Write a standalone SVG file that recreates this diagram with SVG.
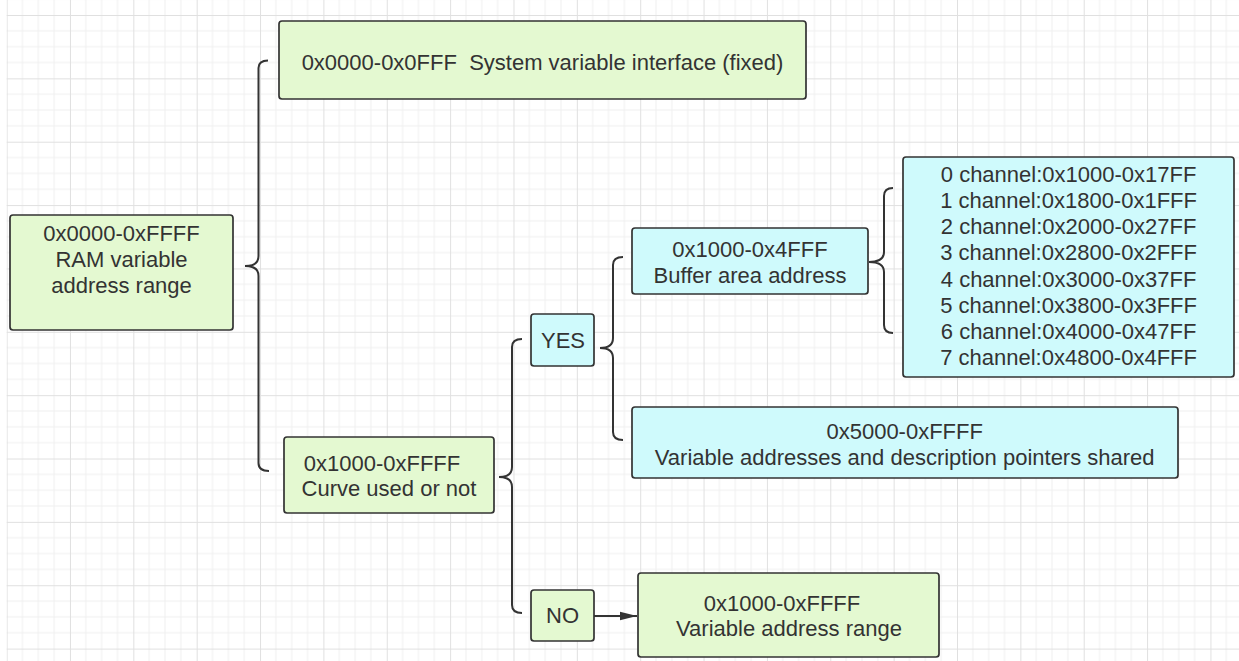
<svg xmlns="http://www.w3.org/2000/svg" width="1239" height="661" viewBox="0 0 1239 661">
<style>
.box{stroke:#333;stroke-width:1.7;}
.g{fill:#e4f9d1;}
.c{fill:#cffafc;}
.t{font-family:"Liberation Sans","Noto Sans",sans-serif;font-size:22px;fill:#333;text-anchor:middle;white-space:pre;}
.br{fill:none;stroke:#333;stroke-width:2;}
</style>
<defs>
<pattern id="grid" patternUnits="userSpaceOnUse" x="6.6" y="15" width="63.36" height="63.36">
<path d="M15.84 0V63.36M31.68 0V63.36M47.52 0V63.36M0 15.84H63.36M0 31.68H63.36M0 47.52H63.36" stroke="#efefef" stroke-width="1" fill="none"/>
<path d="M0.5 0V63.36M0 0.5H63.36" stroke="#e0e0e0" stroke-width="1" fill="none"/>
</pattern>
<marker id="arr" markerWidth="18" markerHeight="10" refX="17" refY="5" orient="auto" markerUnits="userSpaceOnUse">
<path d="M0 0.8L17 5L0 9.2Z" fill="#333"/>
</marker>
</defs>
<rect x="0" y="0" width="1239" height="661" fill="#fff"/>
<rect x="6.6" y="0" width="1233" height="661" fill="url(#grid)"/>
<g id="connectors">
<path class="br" d="M268 60.5Q258.5 60.5 258.5 68V256Q258.5 266 245 266Q258.5 266 258.5 276V463Q258.5 471 269 471"/>
<path class="br" d="M522 339Q512 339 512 347V467Q512 477 499 477Q512 477 512 487V605Q512 613 522 613"/>
<path class="br" d="M623 257Q613 257 613 265V338Q613 348 600 348Q613 348 613 358V432Q613 440 623 440"/>
<path class="br" d="M893 188Q884 188 884 196V252Q884 262 869 262Q884 262 884 272V325Q884 333 893 333"/>
<line x1="594" y1="616" x2="637" y2="616" stroke="#333" stroke-width="2" marker-end="url(#arr)"/>
</g>
<g id="root">
<rect class="box g" x="10" y="215" width="223" height="115" rx="3"/>
<text class="t" x="121.5" y="241">0x0000-0xFFFF</text>
<text class="t" x="121.5" y="267">RAM variable</text>
<text class="t" x="121.5" y="293">address range</text>
</g>
<g id="system">
<rect class="box g" x="279" y="21" width="527" height="78" rx="3"/>
<text class="t" x="542.5" y="70">0x0000-0x0FFF  System variable interface (fixed)</text>
</g>
<g id="curve">
<rect class="box g" x="284" y="437" width="210" height="76" rx="3"/>
<text class="t" x="382" y="471">0x1000-0xFFFF</text>
<text class="t" x="389" y="496">Curve used or not</text>
</g>
<g id="yes">
<rect class="box c" x="531" y="314" width="63" height="52" rx="3"/>
<text class="t" x="563" y="348">YES</text>
</g>
<g id="no">
<rect class="box g" x="531" y="590" width="63" height="51" rx="3"/>
<text class="t" x="562.5" y="623">NO</text>
</g>
<g id="buffer">
<rect class="box c" x="632" y="228" width="236" height="66" rx="3"/>
<text class="t" x="750" y="257">0x1000-0x4FFF</text>
<text class="t" x="750" y="283">Buffer area address</text>
</g>
<g id="channels">
<rect class="box c" x="903" y="157" width="331" height="220" rx="3"/>
<text class="t" x="1068.6" y="181.7">0 channel:0x1000-0x17FF</text>
<text class="t" x="1068.6" y="207.9">1 channel:0x1800-0x1FFF</text>
<text class="t" x="1068.6" y="234.1">2 channel:0x2000-0x27FF</text>
<text class="t" x="1068.6" y="260.3">3 channel:0x2800-0x2FFF</text>
<text class="t" x="1068.6" y="286.5">4 channel:0x3000-0x37FF</text>
<text class="t" x="1068.6" y="312.7">5 channel:0x3800-0x3FFF</text>
<text class="t" x="1068.6" y="338.9">6 channel:0x4000-0x47FF</text>
<text class="t" x="1068.6" y="365.1">7 channel:0x4800-0x4FFF</text>
</g>
<g id="shared">
<rect class="box c" x="632" y="407" width="546" height="71" rx="3"/>
<text class="t" x="904.7" y="439.3">0x5000-0xFFFF</text>
<text class="t" x="904.7" y="465">Variable addresses and description pointers shared</text>
</g>
<g id="varrange">
<rect class="box g" x="638" y="573" width="301" height="84" rx="3"/>
<text class="t" x="782" y="611">0x1000-0xFFFF</text>
<text class="t" x="789" y="636">Variable address range</text>
</g>
</svg>
